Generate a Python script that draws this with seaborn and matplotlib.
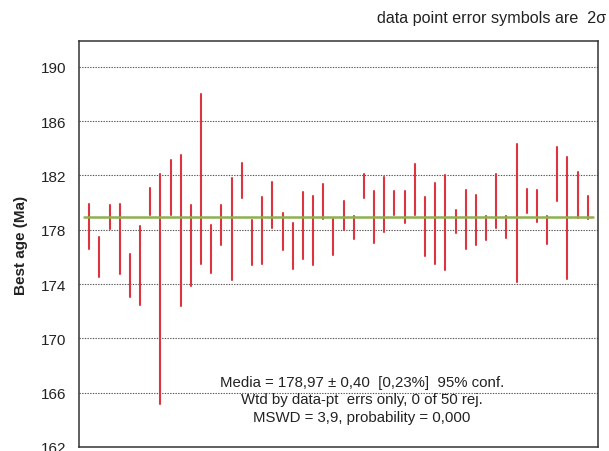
import numpy as np
import pandas as pd
import matplotlib
matplotlib.use("Agg")
import matplotlib.pyplot as plt
import seaborn as sns

# 2-sigma age ranges (Ma) for each analysed grain, in analysis order
grain = list(range(1, 51))
age_hi = [179.91, 177.46, 179.84, 179.91, 176.23, 178.25, 181.09, 182.12, 183.13, 183.52,
          179.84, 188.01, 178.32, 179.84, 181.80, 182.91, 178.74, 180.40, 181.48, 179.25,
          178.52, 180.75, 180.50, 181.39, 178.76, 180.09, 178.98, 182.12, 180.82, 181.88,
          180.82, 180.82, 182.83, 180.40, 181.41, 182.00, 179.47, 180.94, 180.58, 178.98,
          182.12, 178.98, 184.28, 181.02, 180.92, 178.98, 184.11, 183.35, 182.25, 180.48]
age_lo = [176.55, 174.52, 178.05, 174.76, 173.04, 172.45, 179.10, 165.14, 179.10, 172.38,
          173.85, 175.47, 174.81, 176.87, 174.27, 180.31, 175.37, 175.45, 178.15, 176.48,
          175.13, 175.82, 175.37, 178.76, 176.11, 178.00, 177.34, 180.31, 177.04, 177.80,
          179.10, 178.49, 179.10, 176.06, 175.47, 175.06, 177.75, 176.58, 176.87, 177.26,
          178.15, 177.36, 174.15, 179.23, 178.54, 176.92, 180.11, 174.39, 178.86, 178.76]
weighted_mean = 178.97
y_ticks = [162, 166, 170, 174, 178, 182, 186, 190]

summary_lines = [
    "Media = 178,97 \u00b1 0,40  [0,23%]  95% conf.",
    "Wtd by data-pt  errs only, 0 of 50 rej.",
    "MSWD = 3,9, probability = 0,000",
]

# long-form table: one row per segment end, one unit per grain
bars = pd.DataFrame({
    "grain": grain * 2,
    "age": age_lo + age_hi,
})

sns.set_style("white")
plt.rcParams["font.family"] = ["Liberation Sans", "DejaVu Sans"]

fig = plt.figure(figsize=(6.09, 4.52), dpi=100)
ax = fig.add_axes([79 / 609, 1 - 448 / 452, (598 - 79) / 609, (448 - 42) / 452])

sns.lineplot(data=bars, x="grain", y="age", units="grain", estimator=None,
             color="#dd3440", linewidth=1.5, ax=ax, legend=False, sort=False)

ax.axhline(weighted_mean, color="#8fb050", linewidth=1.8, xmin=0.01, xmax=0.99, zorder=3)

ax.set_xlim(0, 51)
ax.set_ylim(162, 191.9)
ax.set_yticks(y_ticks)
ax.set_yticklabels([str(t) for t in y_ticks], fontsize=11, color="#222222")
ax.set_xticks([])
ax.tick_params(axis="y", length=0, pad=9)
for t in y_ticks[1:]:
    ax.axhline(t, color="#555555", linewidth=0.8, linestyle=(0, (1.2, 1.2)), zorder=0)

ax.set_xlabel("")
ax.set_ylabel("Best age (Ma)", fontsize=11, fontweight="bold", labelpad=9, color="#222222")

for side in ax.spines.values():
    side.set_visible(True)
    side.set_color("#333333")
    side.set_linewidth(1.1)

for i, line in enumerate(summary_lines):
    ax.text(0.545, 0.159 - i * 0.042, line, transform=ax.transAxes, ha="center",
            va="center", fontsize=10.8, color="#222222")

fig.text(606 / 609, 1 - 18 / 452, "data point error symbols are  2\u03c3",
         ha="right", va="center", fontsize=11.6, color="#222222")

fig.savefig("out.png", dpi=100)
